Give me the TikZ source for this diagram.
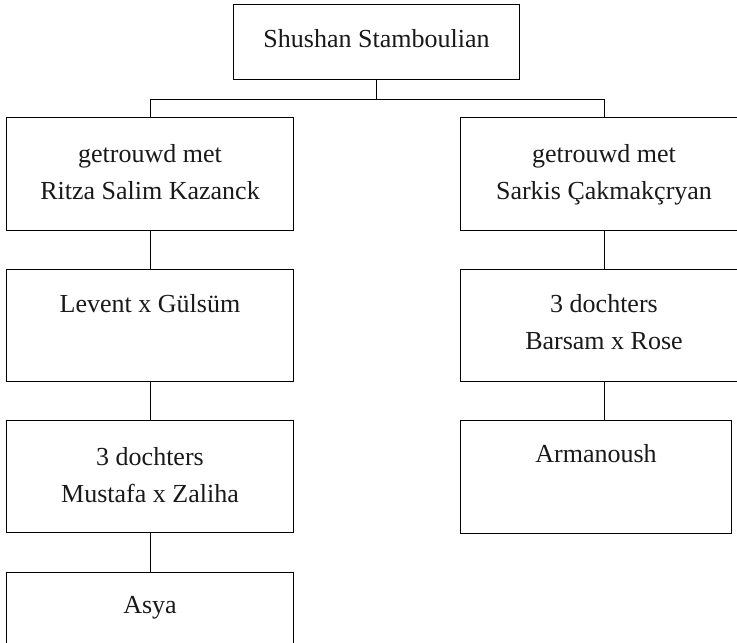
\documentclass[tikz,border=0pt]{standalone}
\usepackage{fontspec}
\setmainfont{Liberation Serif}
\begin{document}
\begin{tikzpicture}[x=1pt,y=-1pt,
  box/.style={draw, line width=1pt, rectangle, inner sep=0pt, anchor=north west},
  lbl/.style={anchor=base, inner sep=0pt, font=\fontsize{26}{30}\selectfont, text=black!90},
  conn/.style={line width=1pt}]
\useasboundingbox (0,0) rectangle (737,643);
% boxes
\node[box, minimum width=286pt, minimum height=75pt] (top) at (233,4) {};
\node[box, minimum width=287pt, minimum height=113pt] (L1) at (6,117) {};
\node[box, minimum width=287pt, minimum height=112pt] (L2) at (6,269) {};
\node[box, minimum width=287pt, minimum height=112pt] (L3) at (6,420) {};
\node[box, minimum width=287pt, minimum height=113pt] (L4) at (6,572) {};
\node[box, minimum width=287pt, minimum height=113pt] (R1) at (460,117) {};
\node[box, minimum width=287pt, minimum height=112pt] (R2) at (460,269) {};
\node[box, minimum width=271pt, minimum height=113pt] (R3) at (460,420) {};
% labels
\node[lbl] (ttop) at ([yshift=-43pt]top.north) {Shushan Stamboulian};
\node[lbl] (tL1a) at ([yshift=-45pt]L1.north) {getrouwd met};
\node[lbl] (tL1b) at ([yshift=-82pt]L1.north) {Ritza Salim Kazanck};
\node[lbl] (tL2) at ([yshift=-43pt]L2.north) {Levent x Gülsüm};
\node[lbl] (tL3a) at ([yshift=-45pt]L3.north) {3 dochters};
\node[lbl] (tL3b) at ([yshift=-82pt]L3.north) {Mustafa x Zaliha};
\node[lbl] (tL4) at ([yshift=-41pt]L4.north) {Asya};
\node[lbl] (tR1a) at ([yshift=-45pt]R1.north) {getrouwd met};
\node[lbl] (tR1b) at ([yshift=-82pt]R1.north) {Sarkis Çakmakçryan};
\node[lbl] (tR2a) at ([yshift=-43pt]R2.north) {3 dochters};
\node[lbl] (tR2b) at ([yshift=-80pt]R2.north) {Barsam x Rose};
\node[lbl] (tR3) at ([yshift=-42pt]R3.north) {Armanoush};
% connectors
\draw[conn] (top.south) -- ++(0,19) coordinate (j);
\draw[conn] (L1.north) -- (L1.north |- j) -- (R1.north |- j) -- (R1.north);
\draw[conn] (L1.south) -- (L2.north);
\draw[conn] (L2.south) -- (L3.north);
\draw[conn] (L3.south) -- (L4.north);
\draw[conn] (R1.south) -- (R2.north);
\draw[conn] (R2.south) -- (R2.south |- R3.north);
\end{tikzpicture}
\end{document}
